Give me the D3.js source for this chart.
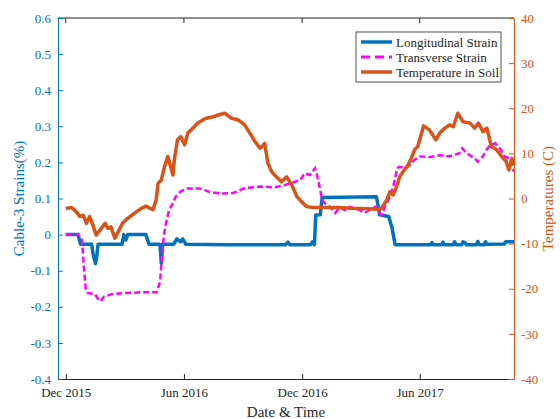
<!DOCTYPE html>
<html>
<head>
<meta charset="utf-8">
<script src="https://cdn.jsdelivr.net/npm/d3@7"></script>
<style>
body { margin: 0; background: white; }
svg text { font-family: "Liberation Serif", "Times New Roman", serif; }
</style>
</head>
<body>
<script>
const width = 560
const height = 419
const margin = {top: 18, left: 58, bottom: 40, right: 46}

// temperature in soil (C), right axis
const tempDates = ["2015-12-01","2015-12-10","2015-12-17","2015-12-23","2015-12-28","2016-01-02","2016-01-07","2016-01-12","2016-01-17","2016-01-23","2016-01-31","2016-02-04","2016-02-09","2016-02-15","2016-02-20","2016-02-27","2016-03-06","2016-03-16","2016-03-27","2016-04-03","2016-04-14","2016-04-19","2016-04-22","2016-04-27","2016-05-02","2016-05-07","2016-05-15","2016-05-17","2016-05-22","2016-05-27","2016-06-02","2016-06-07","2016-06-17","2016-06-22","2016-06-30","2016-07-06","2016-07-16","2016-07-24","2016-08-03","2016-08-13","2016-08-24","2016-09-03","2016-09-11","2016-09-19","2016-09-27","2016-10-04","2016-10-09","2016-10-15","2016-10-22","2016-10-30","2016-11-07","2016-11-15","2016-11-23","2016-11-30","2016-12-08","2016-12-18","2017-01-08","2017-01-28","2017-02-18","2017-03-05","2017-03-26","2017-04-03","2017-04-11","2017-04-16","2017-04-21","2017-04-26","2017-05-01","2017-05-06","2017-05-14","2017-05-19","2017-05-24","2017-05-29","2017-06-04","2017-06-07","2017-06-16","2017-06-26","2017-07-02","2017-07-10","2017-07-17","2017-07-23","2017-07-30","2017-08-07","2017-08-18","2017-08-25","2017-08-31","2017-09-07","2017-09-13","2017-09-20","2017-09-28","2017-10-06","2017-10-13","2017-10-17","2017-10-22","2017-10-25"]
const tempValues = [-2.2,-2.0,-2.9,-4.0,-3.7,-5.5,-4.0,-5.9,-8.1,-7.0,-5.5,-6.6,-6.3,-8.8,-7.4,-5.5,-4.4,-3.3,-2.2,-1.7,-2.5,-0.3,3.4,4.1,7.1,9.3,5.2,8.5,13.0,13.7,11.9,14.5,15.9,16.7,17.4,17.8,18.1,18.5,18.9,17.8,17.4,16.3,14.5,12.6,11.1,12.2,7.8,5.9,4.8,3.7,4.8,3.0,0.4,-0.7,-1.8,-2.0,-2.0,-2.0,-2.2,-2.2,-2.4,-2.2,-0.3,1.5,0.8,2.6,4.8,5.9,7.4,8.9,10.8,11.5,14.5,16.1,15.2,13.0,14.5,15.6,16.3,15.9,18.9,17.0,16.7,15.6,16.7,14.8,15.6,11.5,10.8,9.3,8.2,6.3,8.9,7.4]

// longitudinal strain (%), left axis
const longDates = ["2015-12-01","2015-12-20","2015-12-24","2016-01-10","2016-01-13","2016-01-16","2016-01-18","2016-01-20","2016-02-26","2016-02-29","2016-03-03","2016-03-06","2016-04-03","2016-04-08","2016-04-25","2016-04-27","2016-04-29","2016-05-16","2016-05-21","2016-05-27","2016-05-30","2016-06-04","2016-08-10","2016-11-05","2016-11-09","2016-11-12","2016-12-14","2016-12-17","2016-12-20","2016-12-22","2016-12-29","2017-01-01","2017-03-26","2017-03-31","2017-04-14","2017-04-19","2017-04-24","2017-06-18","2017-06-20","2017-06-22","2017-07-05","2017-07-07","2017-07-09","2017-07-23","2017-07-25","2017-07-27","2017-08-05","2017-08-07","2017-08-10","2017-08-12","2017-08-28","2017-08-30","2017-09-01","2017-09-09","2017-09-11","2017-09-13","2017-10-10","2017-10-12","2017-10-25"]
const longValues = [0,0,-0.027,-0.027,-0.06,-0.08,-0.06,-0.027,-0.027,0,-0.015,0,0,-0.027,-0.027,-0.08,-0.027,-0.027,-0.012,-0.02,-0.012,-0.027,-0.028,-0.028,-0.021,-0.028,-0.028,-0.02,-0.028,0.054,0.055,0.103,0.105,0.055,0.05,0.02,-0.028,-0.028,-0.022,-0.028,-0.028,-0.021,-0.028,-0.028,-0.02,-0.028,-0.028,-0.02,-0.022,-0.028,-0.028,-0.019,-0.028,-0.028,-0.02,-0.027,-0.026,-0.02,-0.02]

// transverse strain (%), left axis
const transDates = ["2015-12-01","2015-12-20","2015-12-26","2015-12-29","2016-01-01","2016-01-04","2016-01-15","2016-01-20","2016-01-24","2016-01-29","2016-02-10","2016-03-02","2016-03-25","2016-04-20","2016-04-25","2016-04-28","2016-05-01","2016-05-04","2016-05-09","2016-05-13","2016-05-19","2016-05-27","2016-06-07","2016-06-25","2016-07-11","2016-07-27","2016-08-16","2016-09-03","2016-09-27","2016-10-20","2016-11-04","2016-11-12","2016-11-28","2016-12-05","2016-12-13","2016-12-21","2016-12-24","2016-12-29","2017-01-01","2017-01-05","2017-01-13","2017-01-21","2017-01-28","2017-02-05","2017-02-13","2017-02-28","2017-03-08","2017-03-24","2017-04-03","2017-04-08","2017-04-16","2017-04-21","2017-04-24","2017-04-27","2017-05-01","2017-05-09","2017-05-17","2017-05-24","2017-06-01","2017-06-17","2017-07-02","2017-07-17","2017-08-01","2017-08-06","2017-08-13","2017-08-25","2017-08-30","2017-09-07","2017-09-12","2017-09-18","2017-09-26","2017-10-03","2017-10-11","2017-10-19","2017-10-25"]
const transValues = [0,0,-0.01,-0.09,-0.15,-0.162,-0.165,-0.178,-0.185,-0.172,-0.165,-0.162,-0.16,-0.16,-0.13,-0.06,0.0,0.03,0.068,0.08,0.104,0.12,0.128,0.128,0.118,0.114,0.115,0.129,0.133,0.131,0.137,0.142,0.151,0.17,0.165,0.184,0.165,0.124,0.096,0.087,0.077,0.06,0.075,0.068,0.077,0.068,0.06,0.077,0.054,0.077,0.105,0.133,0.157,0.184,0.188,0.184,0.193,0.207,0.216,0.215,0.22,0.217,0.225,0.239,0.225,0.211,0.202,0.217,0.234,0.248,0.253,0.239,0.216,0.211,0.174]

const xTickDates = ["2015-12-01","2016-06-01","2016-12-01","2017-06-01"]
const strainTicks = [-0.4,-0.3,-0.2,-0.1,0,0.1,0.2,0.3,0.4,0.5,0.6]
const tempTicks = [-40,-30,-20,-10,0,10,20,30,40]
const legendLabels = ["Longitudinal Strain", "Transverse Strain", "Temperature in Soil"]

const blue = "#0072BD"
const orange = "#D95319"
const magenta = "#FF00FF"
const gray = "#262626"
const font = "Liberation Serif, Times New Roman, serif"

const parse = d3.timeParse("%Y-%m-%d")

const x = d3.scaleTime()
    .domain([parse("2015-11-19"), parse("2017-10-25")])
    .range([margin.left, width - margin.right])
const yL = d3.scaleLinear().domain([-0.4, 0.6]).range([height - margin.bottom, margin.top])
const yR = d3.scaleLinear().domain([-40, 40]).range([height - margin.bottom, margin.top])

const svg = d3.select("body").append("svg")
    .attr("width", width)
    .attr("height", height)
    .attr("font-family", font)

const x0 = margin.left, x1 = width - margin.right
const y0 = height - margin.bottom, y1 = margin.top

// data lines
const lineL = d3.line().x(d => x(d[0])).y(d => yL(d[1]))
const lineR = d3.line().x(d => x(d[0])).y(d => yR(d[1]))

svg.append("path")
    .datum(longDates.map((d, i) => [parse(d), longValues[i]]))
    .attr("d", lineL)
    .attr("fill", "none")
    .attr("stroke", blue)
    .attr("stroke-width", 3.5)
    .attr("stroke-linejoin", "round")

svg.append("path")
    .datum(transDates.map((d, i) => [parse(d), transValues[i]]))
    .attr("d", lineL)
    .attr("fill", "none")
    .attr("stroke", magenta)
    .attr("stroke-width", 2.5)
    .attr("stroke-dasharray", "6,3")

svg.append("path")
    .datum(tempDates.map((d, i) => [parse(d), tempValues[i]]))
    .attr("d", lineR)
    .attr("fill", "none")
    .attr("stroke", orange)
    .attr("stroke-width", 3.5)
    .attr("stroke-linejoin", "round")

// top box line
svg.append("line").attr("x1", x0).attr("x2", x1).attr("y1", y1).attr("y2", y1)
    .attr("stroke", gray).attr("stroke-width", 1)

function styleAxis(g, color) {
    g.attr("font-family", font).attr("font-size", 13)
    g.select(".domain").attr("stroke", color)
    g.selectAll(".tick line").attr("stroke", color)
    g.selectAll(".tick text").attr("fill", color)
}

// bottom x axis, ticks inward
svg.append("g")
    .attr("transform", `translate(0,${y0})`)
    .call(d3.axisBottom(x).tickValues(xTickDates.map(parse)).tickFormat(d3.timeFormat("%b %Y")).tickSizeInner(-5).tickSizeOuter(0).tickPadding(9))
    .call(styleAxis, gray)

// top ticks
svg.selectAll("line.topTick").data(xTickDates.map(parse)).enter()
    .append("line").attr("class", "topTick")
    .attr("x1", d => x(d)).attr("x2", d => x(d))
    .attr("y1", y1).attr("y2", y1 + 5)
    .attr("stroke", gray)

// left axis
svg.append("g")
    .attr("transform", `translate(${x0},0)`)
    .call(d3.axisLeft(yL).tickValues(strainTicks).tickFormat(d => d === 0 ? "0" : d.toFixed(1)).tickSizeInner(-5).tickSizeOuter(0).tickPadding(7))
    .call(styleAxis, blue)

// right axis
svg.append("g")
    .attr("transform", `translate(${x1},0)`)
    .call(d3.axisRight(yR).tickValues(tempTicks).tickFormat(d => String(d)).tickSizeInner(-5).tickSizeOuter(0).tickPadding(7))
    .call(styleAxis, orange)

// axis titles
svg.append("text")
    .attr("x", (x0 + x1) / 2).attr("y", 417)
    .attr("text-anchor", "middle")
    .attr("fill", gray)
    .attr("font-size", 15)
    .text("Date & Time")
svg.append("text")
    .attr("transform", `translate(19,${(y0 + y1) / 2}) rotate(-90)`)
    .attr("text-anchor", "middle")
    .attr("dominant-baseline", "central")
    .attr("fill", blue)
    .attr("font-size", 15)
    .text("Cable-3 Strains(%)")
svg.append("text")
    .attr("transform", `translate(548,${(y0 + y1) / 2}) rotate(-90)`)
    .attr("text-anchor", "middle")
    .attr("dominant-baseline", "central")
    .attr("fill", orange)
    .attr("font-size", 15)
    .text("Temperatures (C)")

// legend
const legend = svg.append("g").attr("transform", "translate(356,32)")
legend.append("rect")
    .attr("width", 145).attr("height", 50)
    .attr("fill", "white").attr("stroke", gray).attr("stroke-width", 0.8)
const legendStyles = [
    {color: blue, dash: null, w: 3.5},
    {color: magenta, dash: "9,5", w: 3},
    {color: orange, dash: null, w: 3.5},
]
const items = legend.selectAll("g.item").data(legendLabels).enter()
    .append("g").attr("class", "item")
    .attr("transform", (d, i) => `translate(0,${10 + i * 15})`)
items.append("line")
    .attr("x1", 5).attr("x2", 36)
    .attr("stroke", (d, i) => legendStyles[i].color)
    .attr("stroke-width", (d, i) => legendStyles[i].w)
    .attr("stroke-dasharray", (d, i) => legendStyles[i].dash)
items.append("text")
    .attr("x", 40)
    .attr("dominant-baseline", "central")
    .attr("fill", gray)
    .attr("font-size", 13)
    .text(d => d)
</script>
</body>
</html>
